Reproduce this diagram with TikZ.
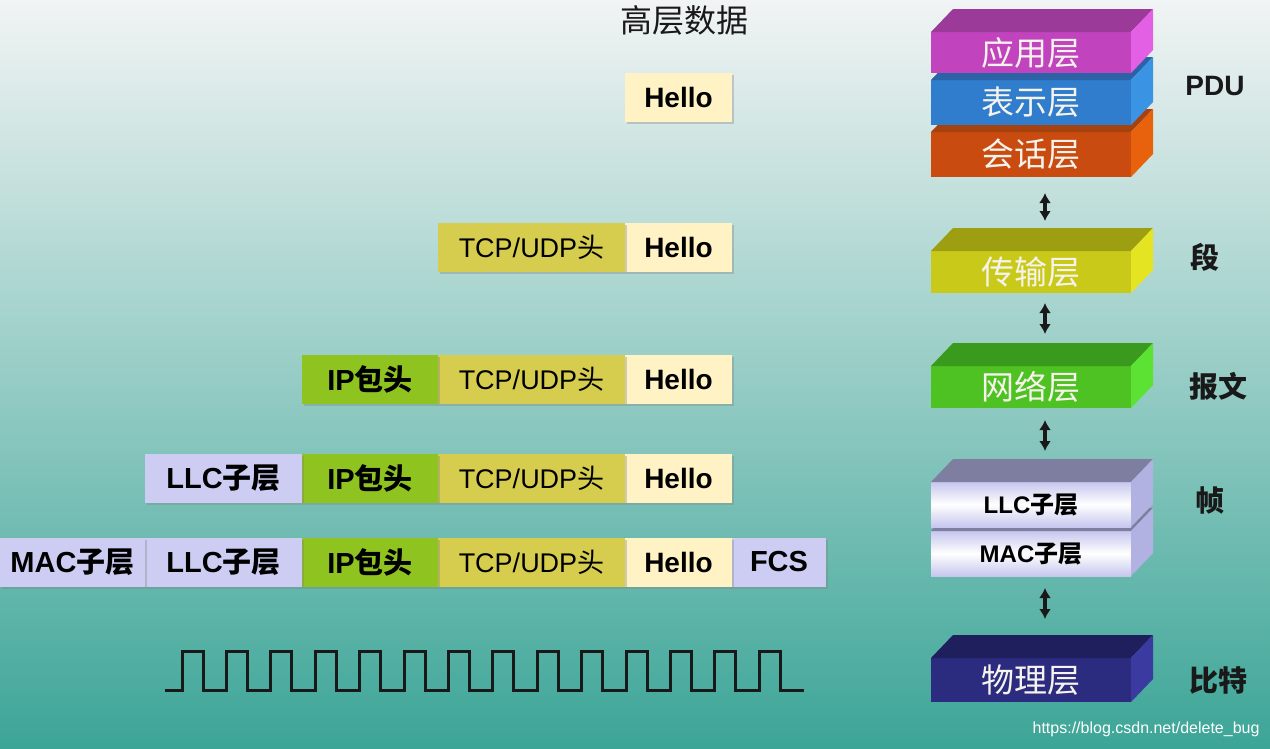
\documentclass[tikz,border=0pt]{standalone}
\usepackage{fontspec}
\setmainfont{Liberation Sans}
\newfontfamily\cjk{Noto Sans CJK SC}
\usetikzlibrary{positioning, arrows.meta, shadows}

\definecolor{bgtop}{HTML}{F1F4F4}
\definecolor{bgmid}{HTML}{9DCBC5}
\definecolor{bgbot}{HTML}{3CA597}
\definecolor{hellofill}{HTML}{FFF3C6}
\definecolor{tcpfill}{HTML}{D6CC4E}
\definecolor{ipfill}{HTML}{8FC31F}
\definecolor{llcfill}{HTML}{CDCDF3}
\definecolor{layertext}{HTML}{F6F3EC}
\definecolor{appfront}{HTML}{C243BE}
\definecolor{apptop}{HTML}{9B3A98}
\definecolor{appside}{HTML}{E35FE3}
\definecolor{presfront}{HTML}{2F7DCC}
\definecolor{prestop}{HTML}{2B63A6}
\definecolor{presside}{HTML}{3B93E3}
\definecolor{sesfront}{HTML}{C94B0F}
\definecolor{sestop}{HTML}{A6420F}
\definecolor{sesside}{HTML}{E8620E}
\definecolor{transfront}{HTML}{C9C91A}
\definecolor{transtop}{HTML}{9E9E12}
\definecolor{transside}{HTML}{E4E422}
\definecolor{netfront}{HTML}{4DC222}
\definecolor{nettop}{HTML}{3A9A1E}
\definecolor{netside}{HTML}{5CE233}
\definecolor{sublav}{HTML}{C6C6EE}
\definecolor{subtop}{HTML}{7E7EA0}
\definecolor{subside}{HTML}{B2B2E2}
\definecolor{phyfront}{HTML}{2B2B80}
\definecolor{phytop}{HTML}{1F1F5E}
\definecolor{physide}{HTML}{3A3AA0}

\begin{document}
\begin{tikzpicture}[x=1pt, y=-1pt,
  cell/.style={minimum height=49pt, inner sep=0pt, outer sep=0pt, text=black,
    drop shadow={shadow xshift=2pt, shadow yshift=-2pt, opacity=0.35}},
  hellocell/.style={cell, fill=hellofill, minimum width=107pt, font=\fontsize{28}{30}\selectfont\bfseries},
  tcpcell/.style={cell, fill=tcpfill, minimum width=187pt, font=\fontsize{27}{30}\selectfont},
  ipcell/.style={cell, fill=ipfill, minimum width=136pt, font=\fontsize{29}{30}\selectfont\bfseries},
  subcell/.style={cell, fill=llcfill, font=\fontsize{29}{30}\selectfont\bfseries},
  layer/.style={minimum width=200pt, inner sep=0pt, outer sep=0pt, text=layertext, font=\cjk\fontsize{33}{35}\selectfont},
  sublayer/.style={layer, top color=sublav, bottom color=sublav, middle color=white, text=black, font=\fontsize{24}{26}\selectfont\bfseries},
  updown/.style={{Latex[length=10pt,width=12pt]}-{Latex[length=10pt,width=12pt]}, line width=3.5pt, black!90},
  pdulabel/.style={font=\cjk\bfseries\fontsize{29}{32}\selectfont, text=black!90}]
  \useasboundingbox (0,0) rectangle (1270,748);
  \shade[top color=bgtop, middle color=bgmid, bottom color=bgbot] (0,0) rectangle (1270,748);

  % data units, one row per layer
  \node[font=\cjk\fontsize{32}{34}\selectfont, text=black!90] (hdr) at (684,20) {高层数据};
  \node[hellocell] (hello1) at (678.5,97.5) {Hello};

  \node[hellocell] (hello2) at (678.5,247.5) {Hello};
  \node[tcpcell, left=0pt of hello2] (tcp2) {TCP/UDP{\cjk 头}};

  \node[hellocell] (hello3) at (678.5,379.5) {Hello};
  \node[tcpcell, left=0pt of hello3] (tcp3) {TCP/UDP{\cjk 头}};
  \node[ipcell, left=0pt of tcp3] (ip3) {IP{\cjk 包头}};

  \node[hellocell] (hello4) at (678.5,478) {Hello};
  \node[tcpcell, left=0pt of hello4] (tcp4) {TCP/UDP{\cjk 头}};
  \node[ipcell, left=0pt of tcp4] (ip4) {IP{\cjk 包头}};
  \node[subcell, minimum width=157pt, left=0pt of ip4] (llc4) {LLC{\cjk 子层}};

  \node[subcell, minimum width=94pt] (fcs5) at (779,562) {FCS};
  \node[hellocell, left=0pt of fcs5] (hello5) {Hello};
  \node[tcpcell, left=0pt of hello5] (tcp5) {TCP/UDP{\cjk 头}};
  \node[ipcell, left=0pt of tcp5] (ip5) {IP{\cjk 包头}};
  \node[subcell, minimum width=157pt, left=0pt of ip5] (llc5) {LLC{\cjk 子层}};
  \node[subcell, minimum width=145pt, left=0pt of llc5] (mac5) {MAC{\cjk 子层}};

  % bit stream
  \draw[line width=3pt, black!90, line join=miter] (165,690) -- (182,690)
    \foreach \k in {0,...,13} { -- ++(0,-39) -- ++(21,0) -- ++(0,39) -- ++(23.4,0) };

  % layer stack, lower blocks first
  \node[layer, fill=sesfront, minimum height=45pt] (ses) at (1031,154.5) {会话层};
  \fill[sestop] (ses.north west) -- ++(22,-23) -- ++(200,0) -- (ses.north east) -- cycle;
  \fill[sesside] (ses.north east) -- ++(22,-23) -- ++(0,45) -- (ses.south east) -- cycle;
  \node[layer, fill=presfront, minimum height=45pt] (pres) at (1031,102.5) {表示层};
  \fill[prestop] (pres.north west) -- ++(22,-23) -- ++(200,0) -- (pres.north east) -- cycle;
  \fill[presside] (pres.north east) -- ++(22,-23) -- ++(0,45) -- (pres.south east) -- cycle;
  \node[layer, fill=appfront, minimum height=41pt] (app) at (1031,52.5) {应用层};
  \fill[apptop] (app.north west) -- ++(22,-23) -- ++(200,0) -- (app.north east) -- cycle;
  \fill[appside] (app.north east) -- ++(22,-23) -- ++(0,41) -- (app.south east) -- cycle;

  \node[layer, fill=transfront, minimum height=42pt] (trans) at (1031,272) {传输层};
  \fill[transtop] (trans.north west) -- ++(22,-23) -- ++(200,0) -- (trans.north east) -- cycle;
  \fill[transside] (trans.north east) -- ++(22,-23) -- ++(0,42) -- (trans.south east) -- cycle;

  \node[layer, fill=netfront, minimum height=42pt] (net) at (1031,387) {网络层};
  \fill[nettop] (net.north west) -- ++(22,-23) -- ++(200,0) -- (net.north east) -- cycle;
  \fill[netside] (net.north east) -- ++(22,-23) -- ++(0,42) -- (net.south east) -- cycle;

  \node[sublayer, minimum height=45pt] (mac) at (1031,553.5) {MAC{\cjk 子层}};
  \fill[subtop] (mac.north west) -- ++(22,-23) -- ++(200,0) -- (mac.north east) -- cycle;
  \fill[subside] (mac.north east) -- ++(22,-23) -- ++(0,45) -- (mac.south east) -- cycle;
  \node[sublayer, minimum height=45pt] (llc) at (1031,504.5) {LLC{\cjk 子层}};
  \fill[subtop] (llc.north west) -- ++(22,-23) -- ++(200,0) -- (llc.north east) -- cycle;
  \fill[subside] (llc.north east) -- ++(22,-23) -- ++(0,45) -- (llc.south east) -- cycle;

  \node[layer, fill=phyfront, minimum height=44pt] (phy) at (1031,680) {物理层};
  \fill[phytop] (phy.north west) -- ++(22,-23) -- ++(200,0) -- (phy.north east) -- cycle;
  \fill[physide] (phy.north east) -- ++(22,-23) -- ++(0,44) -- (phy.south east) -- cycle;

  % arrows between the layers
  \draw[updown, shorten <=16pt, shorten >=30pt] ([xshift=14pt]ses.south) -- ([xshift=14pt]trans.north);
  \draw[updown, shorten <=10pt, shorten >=32pt] ([xshift=14pt]trans.south) -- ([xshift=14pt]net.north);
  \draw[updown, shorten <=12pt, shorten >=31pt] ([xshift=14pt]net.south) -- ([xshift=14pt]llc.north);
  \draw[updown, shorten <=12pt, shorten >=39pt] ([xshift=14pt]mac.south) -- ([xshift=14pt]phy.north);

  % unit names
  \node[font=\fontsize{28}{30}\selectfont\bfseries, text=black!90] (pdu) at (1215,86) {PDU};
  \node[pdulabel] (seg) at (1205,257) {段};
  \node[pdulabel] (pkt) at (1218,386) {报文};
  \node[pdulabel] (frm) at (1210,500) {帧};
  \node[pdulabel] (bits) at (1218,680) {比特};
  \node[font=\fontsize{16}{18}\selectfont, text=white, anchor=east] (mark) at (1263,729) {https://blog.csdn.net/delete\_bug};
\end{tikzpicture}
\end{document}
